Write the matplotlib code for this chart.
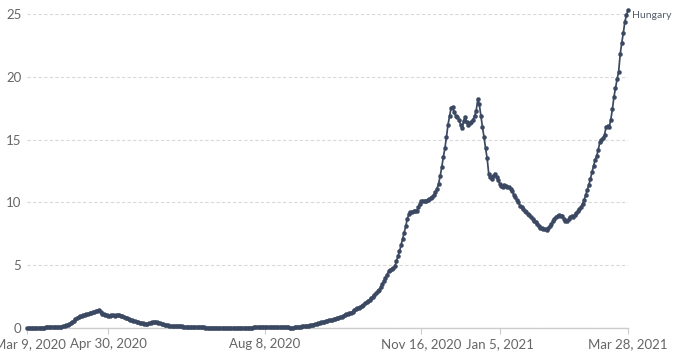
import numpy as np
import pandas as pd
import matplotlib
matplotlib.use("Agg")
import matplotlib.pyplot as plt
import matplotlib.transforms as mtransforms

plt.rcParams["font.family"] = ["Lato", "DejaVu Sans"]

# daily values, Hungary, starting Mar 9, 2020 (one row per week)
start_date = "2020-03-09"
values = [
    0.00, 0.00, 0.00, 0.01, 0.01, 0.01, 0.01,
    0.02, 0.02, 0.02, 0.03, 0.03, 0.04, 0.05,
    0.06, 0.08, 0.10, 0.09, 0.07, 0.06, 0.06,
    0.07, 0.09, 0.13, 0.18, 0.22, 0.25, 0.30,
    0.36, 0.44, 0.56, 0.68, 0.80, 0.88, 0.93,
    0.98, 1.02, 1.06, 1.10, 1.14, 1.17, 1.20,
    1.24, 1.28, 1.32, 1.37, 1.46, 1.25, 1.15,
    1.10, 1.05, 1.00, 0.95, 0.96, 1.00, 1.02,
    0.98, 1.00, 1.02, 1.00, 0.97, 0.93, 0.88,
    0.82, 0.76, 0.70, 0.65, 0.60, 0.56, 0.52,
    0.48, 0.45, 0.42, 0.40, 0.37, 0.34, 0.32,
    0.34, 0.38, 0.43, 0.47, 0.50, 0.48, 0.44,
    0.40, 0.36, 0.32, 0.28, 0.25, 0.22, 0.20,
    0.18, 0.16, 0.15, 0.14, 0.13, 0.12, 0.12,
    0.13, 0.12, 0.11, 0.10, 0.10, 0.09, 0.08,
    0.08, 0.07, 0.06, 0.06, 0.05, 0.05, 0.04,
    0.04, 0.04, 0.03, 0.03, 0.03, 0.02, 0.02,
    0.02, 0.02, 0.02, 0.01, 0.01, 0.01, 0.01,
    0.01, 0.01, 0.01, 0.01, 0.01, 0.01, 0.01,
    0.01, 0.01, 0.02, 0.02, 0.02, 0.02, 0.02,
    0.02, 0.03, 0.03, 0.03, 0.03, 0.04, 0.04,
    0.05, 0.05, 0.06, 0.06, 0.06, 0.06, 0.05,
    0.05, 0.05, 0.04, 0.05, 0.06, 0.06, 0.05,
    0.05, 0.06, 0.06, 0.05, 0.05, 0.04, 0.04,
    0.03, 0.03, 0.03, 0.04, 0.05, 0.06, 0.08,
    0.10, 0.12, 0.15, 0.17, 0.18, 0.19, 0.20,
    0.22, 0.26, 0.30, 0.35, 0.40, 0.42, 0.44,
    0.46, 0.50, 0.54, 0.58, 0.60, 0.62, 0.66,
    0.70, 0.74, 0.78, 0.82, 0.86, 0.90, 0.96,
    1.02, 1.08, 1.12, 1.16, 1.22, 1.30, 1.40,
    1.48, 1.55, 1.62, 1.70, 1.78, 1.86, 1.95,
    2.05, 2.15, 2.26, 2.38, 2.50, 2.62, 2.78,
    2.92, 3.05, 3.25, 3.50, 3.75, 4.00, 4.25,
    4.50, 4.62, 4.70, 4.80, 4.90, 5.30, 5.70,
    6.10, 6.60, 7.10, 7.60, 8.10, 8.70, 9.05,
    9.20, 9.25, 9.30, 9.35, 9.30, 9.60, 9.90,
    10.10, 10.15, 10.10, 10.15, 10.20, 10.25, 10.35,
    10.45, 10.60, 10.80, 11.10, 11.50, 12.10, 12.80,
    13.60, 14.30, 15.20, 16.20, 16.90, 17.55, 17.60,
    17.20, 16.90, 16.80, 16.60, 16.20, 15.90, 16.50,
    16.80, 16.40, 16.15, 16.30, 16.40, 16.60, 16.90,
    17.30, 18.20, 17.80, 16.90, 16.00, 15.20, 14.30,
    13.50, 12.30, 12.00, 11.90, 12.10, 12.30, 12.00,
    11.80, 11.50, 11.30, 11.25, 11.40, 11.30, 11.25,
    11.20, 11.05, 10.90, 10.60, 10.40, 10.20, 10.00,
    9.75, 9.60, 9.45, 9.35, 9.20, 9.10, 9.00,
    8.85, 8.70, 8.55, 8.40, 8.25, 8.10, 8.00,
    7.95, 7.90, 7.85, 7.80, 7.95, 8.10, 8.30,
    8.50, 8.70, 8.85, 8.95, 9.00, 8.95, 8.90,
    8.70, 8.55, 8.50, 8.65, 8.80, 8.90, 8.85,
    9.00, 9.15, 9.30, 9.45, 9.65, 9.90, 10.20,
    10.60, 11.00, 11.40, 11.90, 12.40, 12.90, 13.40,
    13.70, 14.20, 14.80, 15.00, 15.10, 15.40, 16.00,
    16.05, 16.00, 16.60, 17.40, 18.40, 19.10, 19.80,
    20.40, 21.80, 22.70, 23.50, 24.40, 24.90, 25.30,
]
country = "Hungary"
tick_dates = ["2020-03-09", "2020-04-30", "2020-08-08", "2020-11-16",
              "2021-01-05", "2021-03-28"]
tick_labels = ["Mar 9, 2020", "Apr 30, 2020", "Aug 8, 2020", "Nov 16, 2020",
               "Jan 5, 2021", "Mar 28, 2021"]
y_ticks = [0, 5, 10, 15, 20, 25]

dates = pd.date_range(start_date, periods=len(values), freq="D")
line_color = "#3b4862"

fig = plt.figure(figsize=(6.83, 3.6), dpi=100)
ax = fig.add_axes([0.0395, 0.089, 0.88, 0.872])

ax.plot(dates, values, "-o", color=line_color, lw=1.25, ms=2.9,
        mec=line_color, mew=0.3, clip_on=False, zorder=3)

ax.set_xlim(dates[0], dates[-1])
ax.set_ylim(0, 25)
ax.set_yticks(y_ticks)
ax.set_xticks(pd.to_datetime(tick_dates))
ax.set_xticklabels(tick_labels)

ax.grid(True, axis="y", color="#d9d9d9", ls=(0, (3, 2)), lw=0.8)
ax.set_axisbelow(True)
for s in ["top", "right", "left"]:
    ax.spines[s].set_visible(False)
ax.spines["bottom"].set_color("#cccccc")
ax.spines["bottom"].set_linewidth(1.0)
ax.tick_params(axis="y", length=0, pad=4, labelsize=9.5, labelcolor="#666666")
ax.tick_params(axis="x", length=4, width=0.8, color="#cccccc", pad=3,
               labelsize=9.5, labelcolor="#666666")

# nudge the first date label a little to the right, as in the original
first = ax.get_xticklabels()[0]
first.set_transform(first.get_transform() +
                    mtransforms.ScaledTranslation(3 / 100, 0, fig.dpi_scale_trans))

ax.annotate(country, xy=(dates[-1], values[-1]), xytext=(3, -4),
            textcoords="offset points", fontsize=7.5, color="#555c6a",
            ha="left", va="center", annotation_clip=False)

fig.savefig("out.png", dpi=100)
